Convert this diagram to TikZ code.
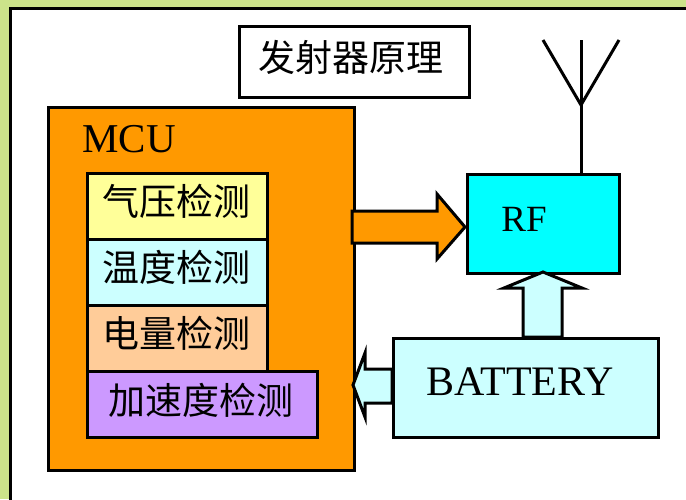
\documentclass[tikz,border=0pt]{standalone}
\usepackage{fontspec}
\setmainfont{Liberation Serif}
\newfontfamily\cjk{Noto Sans CJK SC}
\definecolor{bggreen}{HTML}{CCE38A}
\definecolor{mcuorange}{HTML}{FF9900}
\definecolor{lyellow}{HTML}{FFFF99}
\definecolor{lcyan}{HTML}{CCFFFF}
\definecolor{lpeach}{HTML}{FFCC99}
\definecolor{lviolet}{HTML}{CC99FF}
\definecolor{rfcyan}{HTML}{00FFFF}
\begin{document}
\begin{tikzpicture}[x=1pt,y=-1pt,
  box/.style={draw=black,line width=3pt,inner sep=0pt,anchor=north west},
  cjkt/.style={font=\cjk\fontsize{37}{40}\selectfont},
  latt/.style={font=\fontsize{41}{44}\selectfont},
  arr/.style={draw=black,line width=3pt,line join=miter}]
\useasboundingbox (0,0) rectangle (686,499);
\clip (0,0) rectangle (686,499);
\fill[bggreen] (0,0) rectangle (686,499);
\draw[line width=3pt,fill=white] (10,8) rectangle (720,540);

% title
\node[box,fill=white,minimum width=230,minimum height=71] (title) at (238,25) {};
\node[cjkt] (titlet) at (351,57) {发射器原理};

% MCU
\node[box,fill=mcuorange,minimum width=306,minimum height=363] (mcu) at (47,106) {};
\node[latt] (mcut) at (129,139) {MCU};
\node[box,fill=lyellow,minimum width=180,minimum height=66] (qy) at (86,172) {};
\node[cjkt] (qyt) at (176,201) {气压检测};
\node[box,fill=lcyan,minimum width=180,minimum height=66] (wd) at (86,238) {};
\node[cjkt] (wdt) at (176,267) {温度检测};
\node[box,fill=lpeach,minimum width=180,minimum height=66] (dl) at (86,304) {};
\node[cjkt] (dlt) at (176,333) {电量检测};
\node[box,fill=lviolet,minimum width=230,minimum height=66] (jsd) at (86,370) {};
\node[cjkt] (jsdt) at (201,400) {加速度检测};

% RF
\node[box,fill=rfcyan,minimum width=152,minimum height=99] (rf) at (466,173) {};
\node[font=\fontsize{37}{40}\selectfont] (rft) at (524,219) {RF};
% antenna
\coordinate (ajoin) at (581,105);
\draw[line width=3pt] (rf.north -| ajoin) -- (581,40);
\draw[line width=3pt] (543,40) -- (ajoin) -- (619,40);

% battery
\node[box,fill=lcyan,minimum width=265,minimum height=99] (bat) at (392,337) {};
\node[font=\fontsize{42}{46}\selectfont] (batt) at (520,382) {BATTERY};

% arrow MCU -> RF
\draw[arr,fill=mcuorange] (352,211) -- (437,211) -- (437,194) -- (465,227) -- (437,259) -- (437,243) -- (352,243) -- cycle;
% arrow battery -> RF
\draw[arr,fill=lcyan] (523,337) -- (523,288) -- (504,288) -- (543,272) -- (582,288) -- (562,288) -- (562,337) -- cycle;
% arrow battery -> MCU
\draw[arr,fill=lcyan] (392,369) -- (365,369) -- (365,353) -- (353,385) -- (365,417) -- (365,403) -- (392,403) -- cycle;
\end{tikzpicture}
\end{document}
